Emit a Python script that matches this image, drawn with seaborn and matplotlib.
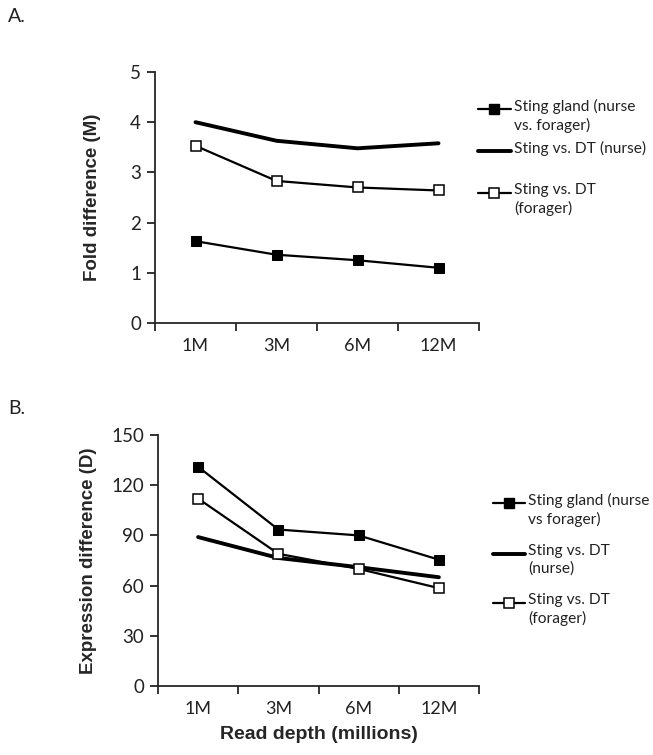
import numpy as np
import pandas as pd
import matplotlib
matplotlib.use('Agg')
import matplotlib.pyplot as plt
import seaborn as sns
from matplotlib.lines import Line2D

# Data
depths = ['1M', '3M', '6M', '12M']

fold_gland = [1.63, 1.36, 1.25, 1.10]
fold_nurse = [4.00, 3.63, 3.48, 3.58]
fold_forager = [3.53, 2.83, 2.70, 2.64]

expr_gland = [131, 93.5, 90, 75.5]
expr_nurse = [89, 76.5, 71, 65]
expr_forager = [112, 79, 70, 58.5]

labels_a = ['Sting gland (nurse\nvs. forager)', 'Sting vs. DT (nurse)', 'Sting vs. DT\n(forager)']
labels_b = ['Sting gland (nurse\nvs forager)', 'Sting vs. DT\n(nurse)', 'Sting vs. DT\n(forager)']

sns.set_style('ticks')
plt.rcParams['font.family'] = ['Lato', 'DejaVu Sans']

W, H = 653, 755
fig = plt.figure(figsize=(W / 100, H / 100), dpi=100)


def px_axes(left, right, top, bottom):
    return fig.add_axes([left / W, 1 - bottom / H, (right - left) / W, (bottom - top) / H])


styles = {
    'gland': dict(lw=1.6, marker='s', ms=7.5, mfc='black', mec='black'),
    'nurse': dict(lw=2.8, marker=None),
    'forager': dict(lw=1.6, marker='s', ms=7.5, mfc='white', mec='black', mew=1.1),
}


def draw_panel(ax, gland, nurse, forager, ymax, ystep, ylabel, label_x):
    df = pd.DataFrame({'pos': np.arange(len(depths)), 'gland': gland,
                       'nurse': nurse, 'forager': forager})
    for key in ['nurse', 'forager', 'gland']:
        st = dict(styles[key])
        sns.lineplot(data=df, x='pos', y=key, ax=ax, color='black',
                     linewidth=st.pop('lw'), **st)
    ax.set_xlim(-0.5, len(depths) - 0.5)
    ax.set_ylim(0, ymax)
    ax.set_yticks(np.arange(0, ymax + ystep / 2, ystep))
    ax.set_xticks(np.arange(-0.5, len(depths), 1.0))
    ax.set_xticklabels([])
    ax.set_xticks(np.arange(len(depths)), minor=True)
    ax.set_xticklabels(depths, minor=True)
    ax.tick_params(axis='x', which='minor', length=0, pad=11, labelsize=13, colors='#222222')
    ax.tick_params(axis='x', which='major', length=6, width=1.3, direction='out')
    ax.tick_params(axis='y', length=6, width=1.3, direction='out', labelsize=13.5, pad=4,
                   colors='#222222')
    sns.despine(ax=ax)
    for s in ['left', 'bottom']:
        ax.spines[s].set_linewidth(1.3)
    ax.set_xlabel('')
    ax.set_ylabel(ylabel, fontsize=13.5, fontweight='bold',
                  family=['Liberation Sans', 'DejaVu Sans'])
    ax.yaxis.set_label_coords(label_x / W, 0.5, transform=fig.transFigure)
    ax.yaxis.label.set_transform(matplotlib.transforms.blended_transform_factory(
        fig.transFigure, ax.transAxes))


def draw_legend(x0, x1, rows, labels):
    keys = ['gland', 'nurse', 'forager']
    for key, y, lab in zip(keys, rows, labels):
        st = dict(styles[key])
        lw = st.pop('lw')
        xs = [x0 / W, (x0 + x1) / 2 / W, x1 / W]
        ln = Line2D(xs, [1 - y / H] * 3, color='black', lw=lw, transform=fig.transFigure,
                    markevery=[1], **st)
        fig.add_artist(ln)
        fig.text((x1 + 3) / W, 1 - (y - 10) / H, lab, fontsize=11.2, va='top', ha='left',
                 linespacing=1.3, color='#222222')


ax1 = px_axes(155, 479, 72, 323)
draw_panel(ax1, fold_gland, fold_nurse, fold_forager, 5, 1, 'Fold difference (M)', 101)

ax2 = px_axes(158, 479, 435, 686)
draw_panel(ax2, expr_gland, expr_nurse, expr_forager, 150, 30, 'Expression difference (D)', 97)
ax2.set_xlabel('Read depth (millions)', fontsize=14, fontweight='bold',
               family=['Liberation Sans', 'DejaVu Sans'], labelpad=6)

draw_legend(478, 511, [109, 151, 193], labels_a)
draw_legend(493, 525, [503, 554, 603], labels_b)

fig.text(8 / W, 1 - 16 / H, 'A.', fontsize=14, va='center', ha='left', color='#222222')
fig.text(8 / W, 1 - 408 / H, 'B.', fontsize=14, va='center', ha='left', color='#222222')

fig.savefig('out.png', dpi=100, facecolor='white')
